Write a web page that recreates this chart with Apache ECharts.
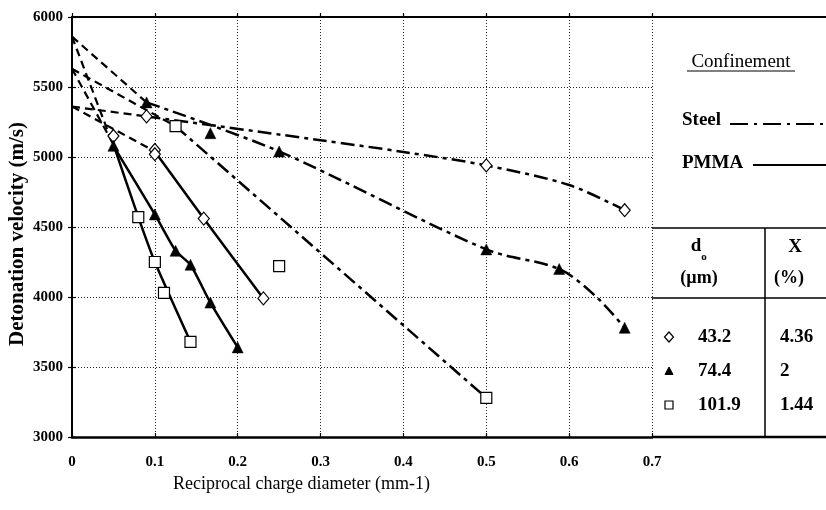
<!DOCTYPE html>
<html>
<head>
<meta charset="utf-8">
<script src="https://cdn.jsdelivr.net/npm/echarts@6/dist/echarts.min.js"></script>
<style>html,body{margin:0;padding:0;background:#fff}#c{width:826px;height:510px}</style>
</head>
<body>
<div id="c"></div>
<script>
// ---- tick labels ----
const X_TICKS = [0, 0.1, 0.2, 0.3, 0.4, 0.5, 0.6, 0.7];
const Y_TICKS = [3000, 3500, 4000, 4500, 5000, 5500, 6000];

// ---- measured points (x = 1/diameter, mm-1 ; y = velocity m/s) ----
const diamondPts = [[0.05,5150],[0.09,5290],[0.1,5050],[0.1,5020],[0.159,4560],[0.231,3990],[0.5,4940],[0.667,4620]];
const trianglePts = [[0.05,5080],[0.09,5390],[0.1,4590],[0.125,4330],[0.143,4230],[0.167,3960],[0.167,5170],[0.2,3640],[0.25,5040],[0.5,4340],[0.588,4200],[0.667,3780]];
const squarePts = [[0.08,4570],[0.1,4250],[0.111,4030],[0.125,5220],[0.143,3680],[0.25,4220],[0.5,3280]];

// ---- curves ----
const steelDiamondExt = [[0,5360],[0.09,5290]];
const steelDiamondFit = [[0.09,5290],[0.3,5120],[0.4,5036],[0.5,4940],[0.6,4800],[0.667,4620]];
const pmmaDiamondExt = [[0,5360],[0.1,5040]];
const pmmaDiamondFit = [[0.1,5040],[0.159,4560],[0.231,3990]];
const steelTriangleExt = [[0,5860],[0.09,5390]];
const steelTriangleFit = [[0.09,5390],[0.25,5040],[0.5,4340],[0.588,4200],[0.633,4000],[0.667,3780]];
const pmmaTriangleExt = [[0,5860],[0.05,5080]];
const pmmaTriangleFit = [[0.05,5080],[0.1,4590],[0.125,4330],[0.143,4230],[0.167,3960],[0.2,3640]];
const steelSquareExt = [[0,5630],[0.125,5220]];
const steelSquareFit = [[0.125,5220],[0.5,3280]];
const pmmaSquareExt = [[0,5630],[0.05,5090]];
const pmmaSquareFit = [[0.05,5090],[0.08,4570],[0.1,4250],[0.143,3680]];

// ---- legend table ----
const tableRows = [
  {sym:'diamond', d:'43.2', x:'4.36'},
  {sym:'triangle', d:'74.4', x:'2'},
  {sym:'square', d:'101.9', x:'1.44'}
];

const FONT = '"Liberation Serif","Times New Roman",serif';
const EXT = [8,5];
const STEEL = [14,5,4,5];

function lineSeries(data, dash, width, smooth) {
  return {type:'line', data, symbol:'none', smooth: smooth || 0, silent:true,
    lineStyle:{color:'#000', width: width || 2.2, type: dash || 'solid', opacity:1}, z:2};
}

const chart = echarts.init(document.getElementById('c'), null, {renderer:'canvas'});

const gl = {left:72, right:174, top:17, bottom:73};
const graphic = [];
// titles
graphic.push({type:'text', x:18, y:234, rotation:Math.PI/2,
  style:{text:'Detonation velocity (m/s)', font:'bold 21px '+FONT, fill:'#000', align:'center', verticalAlign:'middle'}});
graphic.push({type:'text', x:173, y:484,
  style:{text:'Reciprocal charge diameter (mm-1)', font:'18px '+FONT, fill:'#000', align:'left', verticalAlign:'middle'}});
// table lines
const L = (x1,y1,x2,y2,w,dash)=>({type:'line', shape:{x1,y1,x2,y2}, style:{stroke:'#000', lineWidth:w||1.5, lineDash:dash||null}});
graphic.push(L(652,17,826,17,2));
graphic.push(L(652,437,826,437,2.5));
graphic.push(L(652,228,826,228,1.5));
graphic.push(L(652,298,826,298,1.5));
graphic.push(L(765,228,765,437,1.5));
// confinement
graphic.push({type:'text', x:741, y:62, style:{text:'Confinement', font:'19px '+FONT, fill:'#000', align:'center', verticalAlign:'middle'}});
graphic.push(L(687,71,795,71,1));
graphic.push({type:'text', x:682, y:120, style:{text:'Steel', font:'bold 19px '+FONT, fill:'#000', align:'left', verticalAlign:'middle'}});
graphic.push(L(730,124,826,124,2,[18,6,3,6]));
graphic.push({type:'text', x:682, y:163, style:{text:'PMMA', font:'bold 19px '+FONT, fill:'#000', align:'left', verticalAlign:'middle'}});
graphic.push(L(753,165,826,165,2));
// header
graphic.push({type:'text', x:696, y:246, style:{text:'d', font:'bold 19px '+FONT, fill:'#000', align:'center', verticalAlign:'middle'}});
graphic.push({type:'text', x:704, y:257, style:{text:'o', font:'bold 11px '+FONT, fill:'#000', align:'center', verticalAlign:'middle'}});
graphic.push({type:'text', x:699, y:278, style:{text:'(\u00b5m)', font:'bold 18px '+FONT, fill:'#000', align:'center', verticalAlign:'middle'}});
graphic.push({type:'text', x:795, y:247, style:{text:'X', font:'bold 19px '+FONT, fill:'#000', align:'center', verticalAlign:'middle'}});
graphic.push({type:'text', x:789, y:278, style:{text:'(%)', font:'bold 18px '+FONT, fill:'#000', align:'center', verticalAlign:'middle'}});
// rows
const rowY = [337, 371, 405];
tableRows.forEach((r,i)=>{
  const y = rowY[i], sx = 669;
  if (r.sym==='diamond') graphic.push({type:'polygon', shape:{points:[[sx,y-5],[sx+4.5,y],[sx,y+5],[sx-4.5,y]]}, style:{fill:'#fff', stroke:'#000', lineWidth:1.2}});
  if (r.sym==='triangle') graphic.push({type:'polygon', shape:{points:[[sx,y-4],[sx+4,y+3.5],[sx-4,y+3.5]]}, style:{fill:'#000', stroke:'#000', lineWidth:1}});
  if (r.sym==='square') graphic.push({type:'rect', shape:{x:sx-4, y:y-4, width:8, height:8}, style:{fill:'#fff', stroke:'#000', lineWidth:1.2}});
  graphic.push({type:'text', x:698, y:y, style:{text:r.d, font:'bold 19px '+FONT, fill:'#000', align:'left', verticalAlign:'middle'}});
  graphic.push({type:'text', x:780, y:y, style:{text:r.x, font:'bold 19px '+FONT, fill:'#000', align:'left', verticalAlign:'middle'}});
});

const option = {
  animation:false,
  backgroundColor:'#fff',
  grid: gl,
  xAxis: [{
    type:'value', min:0, max:0.7, interval:0.1, position:'bottom',
    axisLine:{lineStyle:{color:'#000', width:2.5}},
    axisTick:{inside:true, length:4, lineStyle:{color:'#000', width:1.2}},
    axisLabel:{color:'#000', margin:18, fontFamily:FONT, fontWeight:'bold', fontSize:15,
      formatter: v => { const t = X_TICKS.find(k => Math.abs(k - v) < 1e-6); return t === undefined ? '' : String(t); }},
    splitLine:{show:true, lineStyle:{color:'#222', width:1, type:[1,2]}}
  },{
    type:'value', min:0, max:0.7, interval:0.1, position:'top',
    axisLine:{lineStyle:{color:'#000', width:2}},
    axisTick:{inside:false, length:4, lineStyle:{color:'#000', width:1.2}},
    axisLabel:{show:false}, splitLine:{show:false}
  }],
  yAxis: [{
    type:'value', min:3000, max:6000, interval:500, position:'left',
    axisLine:{show:true, lineStyle:{color:'#000', width:1.6}},
    axisTick:{show:true, inside:false, length:4, lineStyle:{color:'#000', width:1.2}},
    axisLabel:{color:'#000', margin:9, fontFamily:FONT, fontWeight:'bold', fontSize:15,
      formatter: v => Y_TICKS.includes(v) ? String(v) : ''},
    splitLine:{show:true, lineStyle:{color:'#222', width:1, type:[1,2]}}
  },{
    type:'value', min:3000, max:6000, interval:500, position:'right',
    axisLine:{show:true, lineStyle:{color:'#000', width:2}},
    axisTick:{show:true, inside:false, length:4, lineStyle:{color:'#000', width:1.2}},
    axisLabel:{show:false}, splitLine:{show:false}
  }],
  graphic: graphic,
  series: [
    lineSeries(steelDiamondExt, EXT, 2.2),
    lineSeries(steelDiamondFit, STEEL, 2.5, 0.3),
    lineSeries(pmmaDiamondExt, EXT, 2.2),
    lineSeries(pmmaDiamondFit, 'solid', 2.5, 0.2),
    lineSeries(steelTriangleExt, EXT, 2.2),
    lineSeries(steelTriangleFit, STEEL, 2.5, 0.3),
    lineSeries(pmmaTriangleExt, EXT, 2.2),
    lineSeries(pmmaTriangleFit, 'solid', 2.5, 0.2),
    lineSeries(steelSquareExt, EXT, 2.2),
    lineSeries(steelSquareFit, STEEL, 2.5),
    lineSeries(pmmaSquareExt, EXT, 2.2),
    lineSeries(pmmaSquareFit, 'solid', 2.5, 0.2),
    {type:'scatter', data:diamondPts, symbol:'diamond', symbolSize:[11,13], z:5,
      itemStyle:{color:'#fff', borderColor:'#000', borderWidth:1.2, opacity:1}},
    {type:'scatter', data:trianglePts, symbol:'triangle', symbolSize:[11,11], z:5,
      itemStyle:{color:'#000', borderColor:'#000', borderWidth:0.5, opacity:1}},
    {type:'scatter', data:squarePts, symbol:'rect', symbolSize:[11,11], z:5,
      itemStyle:{color:'#fff', borderColor:'#000', borderWidth:1.2, opacity:1}}
  ]
};
chart.setOption(option);
</script>
</body>
</html>
